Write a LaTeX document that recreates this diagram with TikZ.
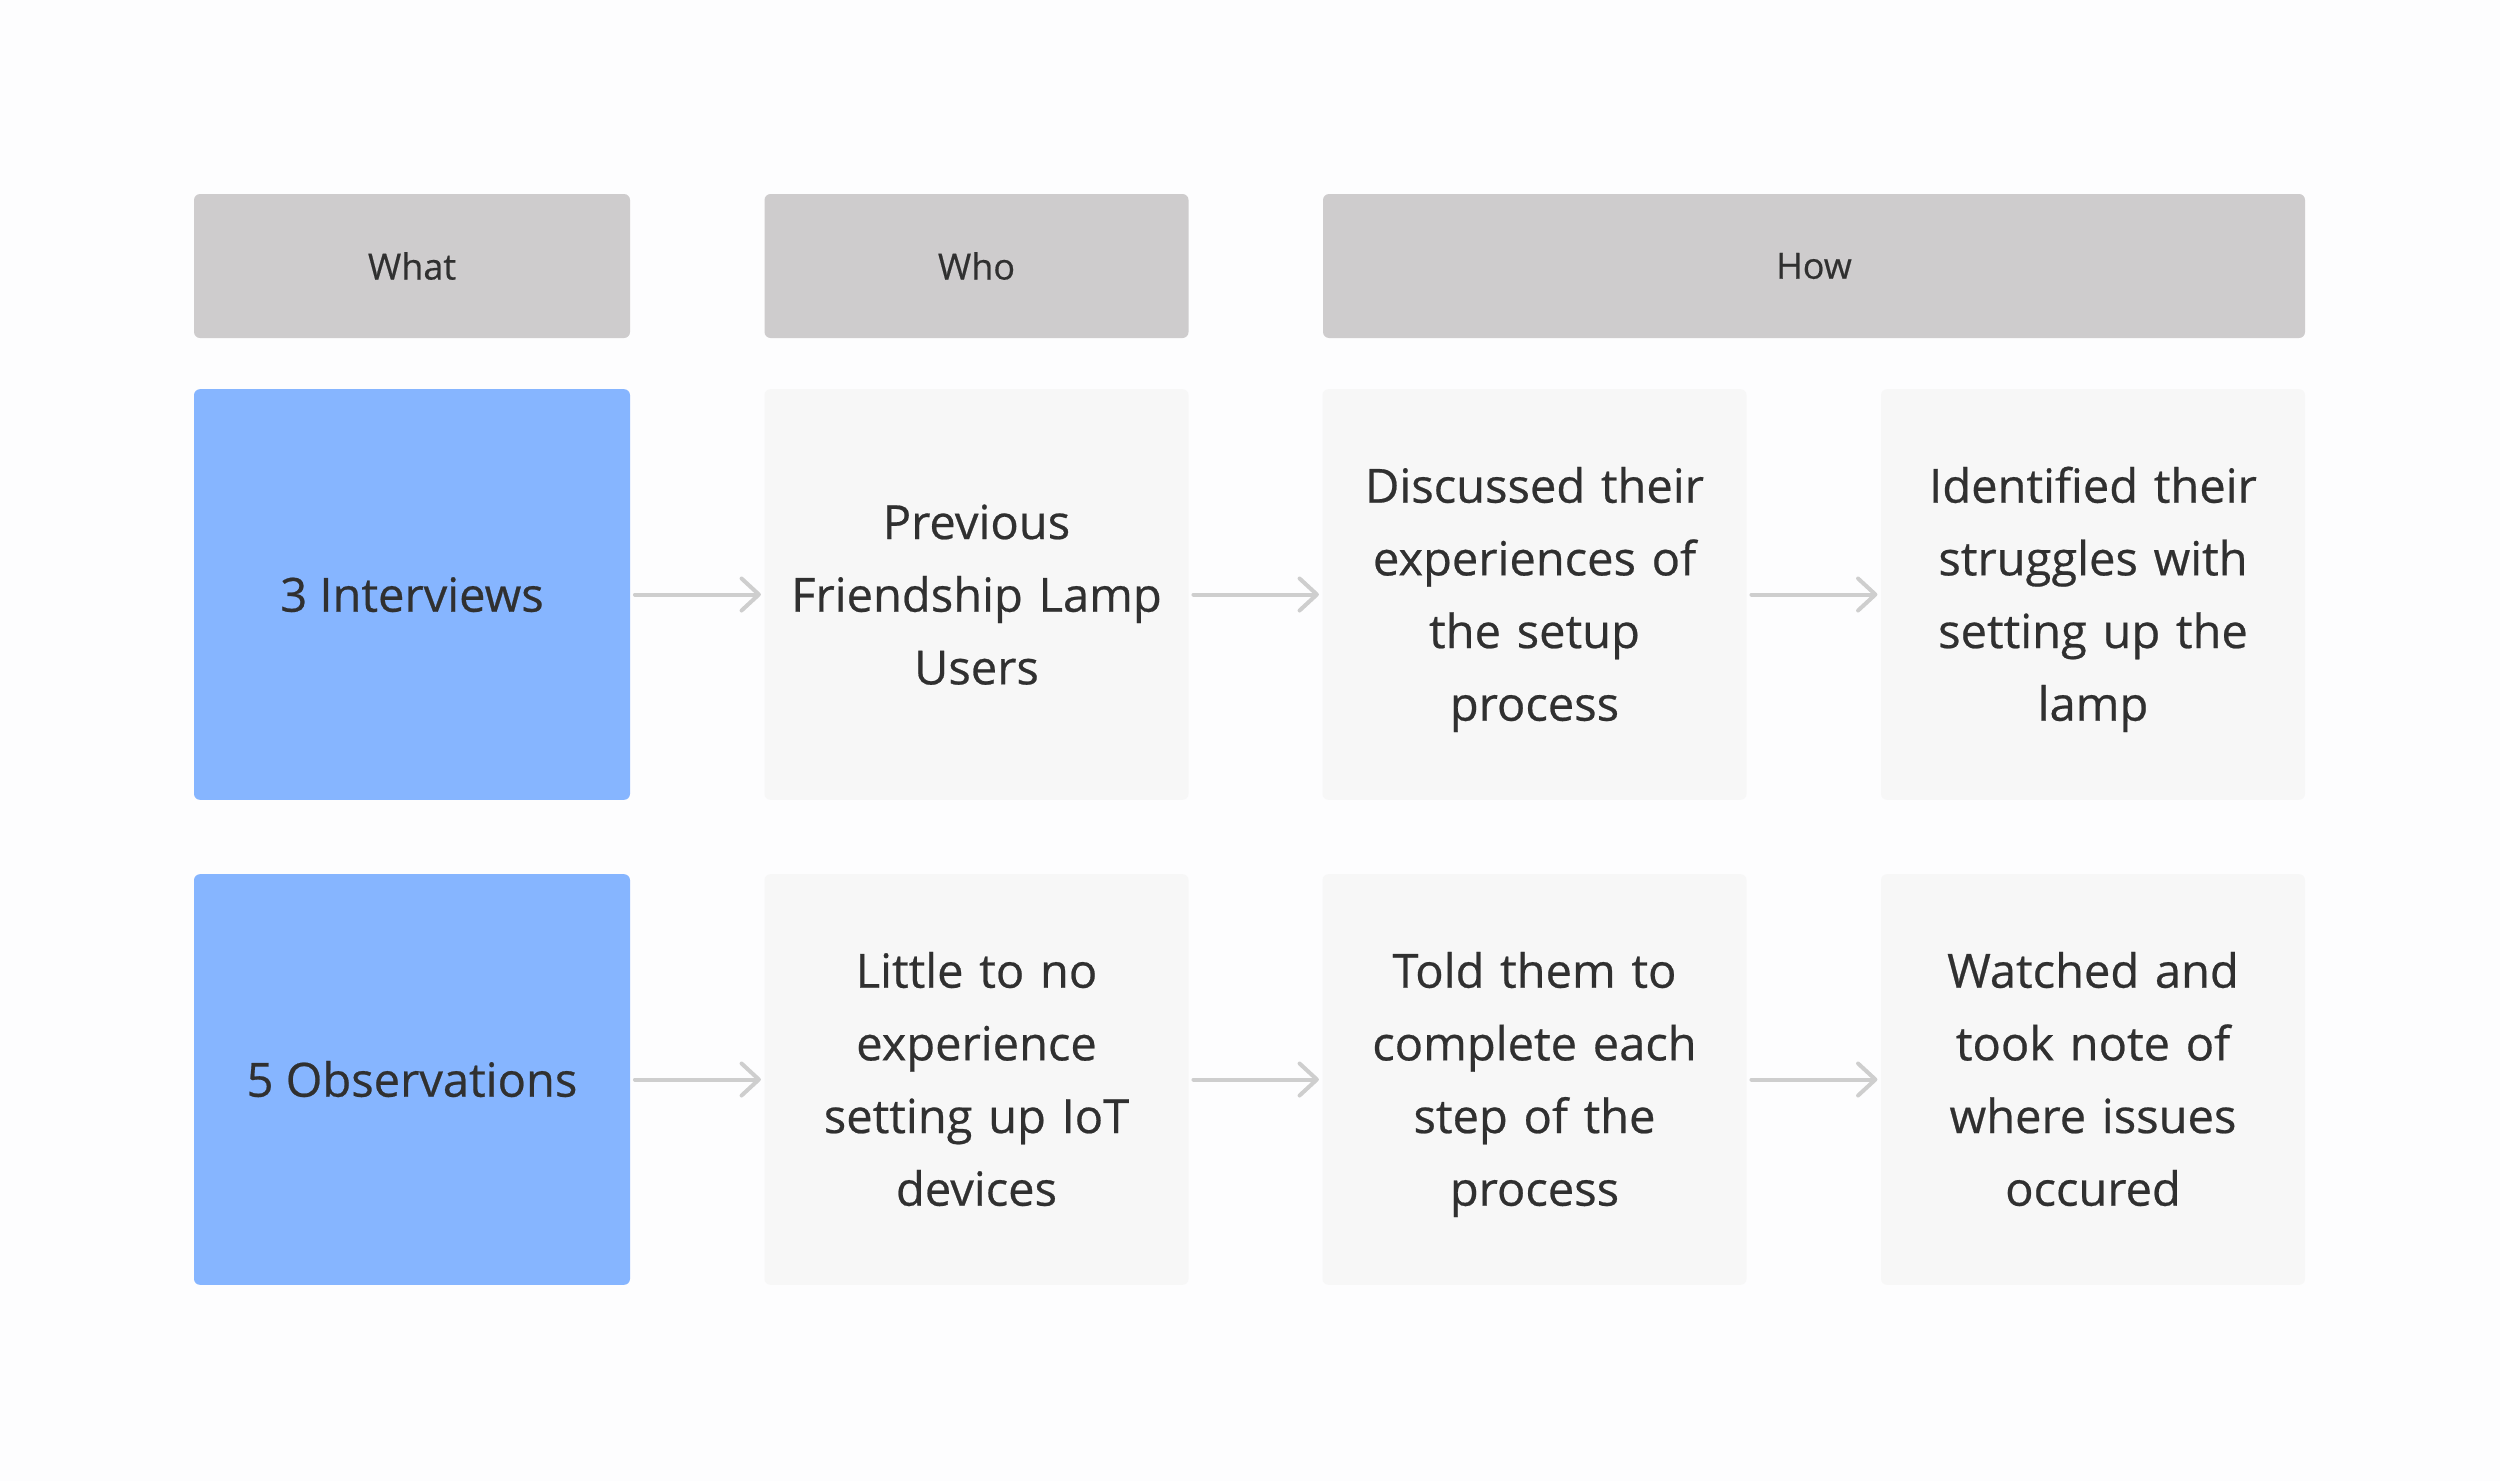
\documentclass[tikz,border=0pt]{standalone}
\usepackage{fontspec}
\setmainfont[FakeBold=0.5]{Open Sans}
\usetikzlibrary{arrows.meta}

\definecolor{hdrgray}{RGB}{206,204,205}
\definecolor{whatblue}{RGB}{134,181,255}
\definecolor{cellgray}{RGB}{247,247,247}
\definecolor{inkgray}{RGB}{48,48,48}
\definecolor{flowgray}{RGB}{206,206,206}
\definecolor{pagebg}{RGB}{253,253,254}

% line box of the body text
\newcommand\linebox{\rule[-14.35pt]{0pt}{54.5pt}}

\tikzset{
  hdr/.style={fill=hdrgray, rounded corners=4.5pt, minimum height=108pt, inner sep=0pt,
    text=inkgray, font=\fontsize{27}{32}\selectfont},
  whatbox/.style={fill=whatblue, rounded corners=4.5pt, minimum width=327pt, minimum height=308pt,
    inner sep=0pt, text=inkgray, font=\fontsize{35.3}{54.5}\selectfont,
    execute at begin node=\linebox, execute at end node=\linebox},
  cellbox/.style={fill=cellgray, rounded corners=4.5pt, minimum width=318pt, minimum height=308pt,
    inner sep=0pt, align=center, text width=300pt, text=inkgray, font=\fontsize{35.3}{54.5}\selectfont,
    execute at begin node=\linebox, execute at end node=\linebox},
  flow/.style={draw=flowgray, line width=3pt, line cap=round, line join=round,
    -{Straight Barb[length=13pt,width=24pt,line cap=round,line join=round]},
    shorten <=3.5pt, shorten >=2.5pt}
}

\begin{document}
\begin{tikzpicture}[x=0.75pt,y=0.75pt,yscale=-1,xscale=1]
% page
\fill [pagebg] (0,0) rectangle (2500,1481);
\useasboundingbox (0,0) rectangle (2500,1481);

% headers
\node [hdr, minimum width=327pt] (what) at (412,266) {What};
\node [hdr, minimum width=318pt] (who) at (976.5,266) {Who};
\node [hdr, minimum width=736.5pt] (how) at (1814,266) {How};

% first row
\node [whatbox] (intv) at (412,594.5) {3 Interviews};
\node [cellbox] (intvwho) at (976.5,594.5) {Previous\\Friendship Lamp\\Users};
\node [cellbox] (intvhowa) at (1534.5,594.5) {Discussed their\\experiences of\\the setup\\process};
\node [cellbox] (intvhowb) at (2093,594.5) {Identified their\\struggles with\\setting up the\\lamp};

% second row
\node [whatbox] (obs) at (412,1079.5) {5 Observations};
\node [cellbox] (obswho) at (976.5,1079.5) {Little to no\\experience\\setting up IoT\\devices};
\node [cellbox] (obshowa) at (1534.5,1079.5) {Told them to\\complete each\\step of the\\process};
\node [cellbox] (obshowb) at (2093,1079.5) {Watched and\\took note of\\where issues\\occured};

% arrows
\draw [flow] (intv) -- (intvwho);
\draw [flow] (intvwho) -- (intvhowa);
\draw [flow] (intvhowa) -- (intvhowb);
\draw [flow] (obs) -- (obswho);
\draw [flow] (obswho) -- (obshowa);
\draw [flow] (obshowa) -- (obshowb);

\end{tikzpicture}
\end{document}
